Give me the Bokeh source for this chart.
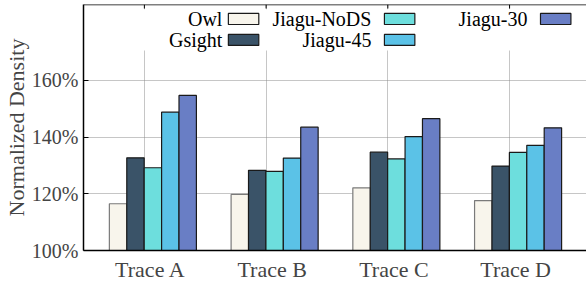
from bokeh.plotting import figure
from bokeh.models import (Range1d, FixedTicker, LinearAxis, Grid, ColumnDataSource, Span)
from bokeh.core.properties import value
from bokeh.embed import file_html
from bokeh.resources import INLINE

# ---- data ----
traces = ["Trace A", "Trace B", "Trace C", "Trace D"]
series = ["Owl", "Gsight", "Jiagu-NoDS", "Jiagu-45", "Jiagu-30"]
owl = [116.5, 119.8, 122.1, 117.6]
gsight = [132.7, 128.3, 134.7, 129.8]
jiagu_nods = [129.2, 127.9, 132.3, 134.6]
jiagu_45 = [148.8, 132.6, 140.2, 137.1]
jiagu_30 = [154.7, 143.5, 146.5, 143.3]
y_ticks = [100, 120, 140, 160]
y_tick_labels = ["100%", "120%", "140%", "160%"]

values = [owl, gsight, jiagu_nods, jiagu_45, jiagu_30]
fills = ["#f8f5ec", "#3a5368", "#6ddedd", "#5bc2e7", "#697ec5"]
lines = ["#7a7a7a", "#1a1a1a", "#1a1a1a", "#1a1a1a", "#1a1a1a"]

FONT = "Liberation Serif"
Y_MAX = 186.8
X_MIN, X_MAX = -0.5, 3.632

p = figure(width=586, height=285, output_backend="svg", toolbar_location=None,
           x_range=Range1d(X_MIN, X_MAX), y_range=Range1d(100, Y_MAX),
           min_border_left=83, min_border_right=0, min_border_top=4,
           min_border_bottom=35, x_axis_location=None, y_axis_location=None)
p.outline_line_color = None
p.xgrid.visible = False
p.ygrid.visible = False

# axes
yax = LinearAxis(ticker=FixedTicker(ticks=y_ticks),
                 major_label_overrides={t: l for t, l in zip(y_ticks, y_tick_labels)})
yax.axis_label = "Normalized Density"
yax.axis_label_text_font = FONT
yax.axis_label_text_font_size = "22px"
yax.axis_label_text_font_style = "normal"
yax.axis_label_standoff = 0
yax.major_label_text_font = FONT
yax.major_label_text_font_size = "20px"
yax.major_label_standoff = 5
yax.major_tick_in = 5
yax.major_tick_out = 0
yax.minor_tick_line_color = None
yax.axis_line_width = 1.5
yax.major_tick_line_width = 1
p.add_layout(yax, "left")

n = len(traces)
group_pos = list(range(n))
label_pos = [g + 0.05 for g in group_pos]
xax = LinearAxis(ticker=FixedTicker(ticks=label_pos),
                 major_label_overrides={lp: t for lp, t in zip(label_pos, traces)})
xax.major_label_text_font = FONT
xax.major_label_text_font_size = "22px"
xax.major_label_standoff = 6
xax.major_tick_in = 0
xax.major_tick_out = 0
xax.minor_tick_line_color = None
xax.axis_line_width = 1.5
p.add_layout(xax, "below")

# top border with inward ticks
p.add_layout(Span(location=Y_MAX, dimension="width", line_color="black", line_width=1.5))
tick_len = 4 * (Y_MAX - 100) / 246.0
p.segment(x0=group_pos, x1=group_pos, y0=[Y_MAX] * n, y1=[Y_MAX - tick_len] * n,
          line_color="black", line_width=1)

# grids
p.add_layout(Grid(dimension=0, ticker=FixedTicker(ticks=group_pos),
                  grid_line_color="#8c8c8c", grid_line_dash="1 1", grid_line_width=1))
p.add_layout(Grid(dimension=1, ticker=FixedTicker(ticks=y_ticks[1:]),
                  grid_line_color="#8c8c8c", grid_line_dash="1 1", grid_line_width=1))

# bars
bw = 0.143
offsets = [(k - 2) * bw + 0.07 for k in range(len(series))]
for k, (name, vals) in enumerate(zip(series, values)):
    src = ColumnDataSource(dict(x=[g + offsets[k] for g in group_pos], top=vals))
    p.vbar(x="x", top="top", bottom=100, width=bw, source=src,
           fill_color=fills[k], line_color=lines[k], line_width=1.2)

# legend (key) with opaque background
p.quad(left=X_MIN, right=X_MAX, bottom=170.6, top=Y_MAX - tick_len * 1.2,
       fill_color="white", line_color=None)
key_text_right = [0.641, 1.865, 3.147]
key_sw_left = [0.690, 1.972, 3.254]
sw_w = 0.25
row_y = [181.7, 174.3]
sw_h = 3.9
layout = [(0, 0), (0, 1), (1, 0), (1, 1), (2, 0)]
for k, (col, row) in enumerate(layout):
    p.text(x=[key_text_right[col]], y=[row_y[row]], text=[series[k]],
           text_align="right", text_baseline="middle",
           text_font=value(FONT), text_font_size="20px", text_color="black")
    p.quad(left=key_sw_left[col], right=key_sw_left[col] + sw_w,
           bottom=row_y[row] - sw_h / 2, top=row_y[row] + sw_h / 2,
           fill_color=fills[k], line_color="#1a1a1a", line_width=1.2)

open("out.html", "w").write(file_html(p, INLINE))
